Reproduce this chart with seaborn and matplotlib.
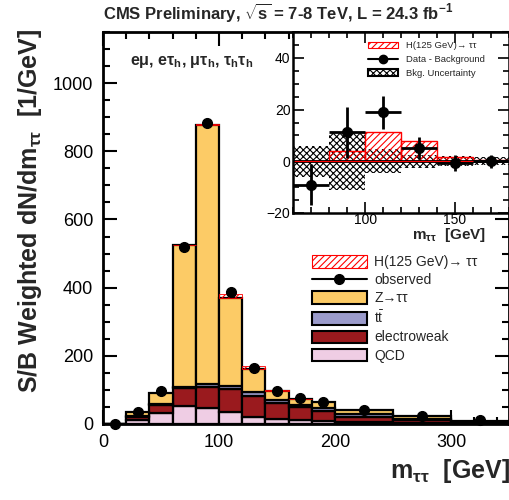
import numpy as np
import pandas as pd
import matplotlib
matplotlib.use("Agg")
import matplotlib.pyplot as plt
import seaborn as sns
from matplotlib.patches import Patch
from matplotlib.lines import Line2D
from matplotlib.ticker import MultipleLocator

# bin edges of the m_tautau distribution (GeV)
mass_edges = [0, 20, 40, 60, 80, 100, 120, 140, 160, 180, 200, 250, 300, 350]

# stacked backgrounds (S/B weighted events / GeV)
qcd = [0, 12, 31, 54, 46, 34, 22, 15, 12, 8, 7, 3, 1]
ewk = [0, 10, 26, 52, 64, 69, 61, 46, 37, 31, 15, 9, 4]
ttbar = [0, 1, 3, 2, 8, 8, 10, 9, 8, 7, 7, 3, 1]
ztt = [0, 13, 32, 417, 758, 259, 69, 28, 15, 18, 12, 9, 2]
higgs = [0, 0, 0, 0.5, 4, 11, 8, 2, 0.5, 0, 0, 0, 0]
observed = [0, 36, 98, 518, 884, 387, 165, 98, 76, 64, 42, 24, 12]

# inset: data minus background
inset_edges = [60, 80, 100, 120, 140, 160, 180]
inset_signal = [0.3, 3.8, 11.2, 7.7, 1.7, 0.5]
inset_data = [-9.0, 11.2, 18.9, 5.1, -0.6, 0.0]
inset_err = [8.0, 9.8, 6.4, 4.2, 3.0, 2.5]
inset_unc = [6.0, 11.2, 4.6, 2.6, 1.9, 1.6]

colors = {
    "Z": "#FCCB66",
    "tt": "#9B9BCB",
    "ewk": "#9A1A1E",
    "qcd": "#EFCDE4",
}

sns.set_theme(style="ticks")
plt.rcParams["font.family"] = ["Liberation Sans", "DejaVu Sans"]
plt.rcParams["mathtext.fontset"] = "custom"
plt.rcParams["mathtext.rm"] = "Liberation Sans"
plt.rcParams["mathtext.it"] = "Liberation Sans:italic"
plt.rcParams["mathtext.bf"] = "Liberation Sans:bold"
plt.rcParams["hatch.linewidth"] = 0.8

edges = np.array(mass_edges, dtype=float)
centers = 0.5 * (edges[:-1] + edges[1:])
widths = np.diff(edges)

rows = []
for proc, vals in [("Z", ztt), ("tt", ttbar), ("ewk", ewk), ("qcd", qcd)]:
    for c, v in zip(centers, vals):
        rows.append({"mass": c, "weight": v, "process": proc})
df = pd.DataFrame(rows)

fig = plt.figure(figsize=(5.1, 5.0), dpi=100)
ax = fig.add_axes([0.202, 0.152, 0.796, 0.784])

sns.histplot(data=df, x="mass", weights="weight", hue="process",
             hue_order=["Z", "tt", "ewk", "qcd"], palette=colors,
             bins=mass_edges, multiple="stack", element="bars",
             alpha=1, edgecolor="black", linewidth=1.6, legend=False, ax=ax)

total = np.array(qcd) + np.array(ewk) + np.array(ttbar) + np.array(ztt)
hig = np.array(higgs)
sel = hig > 0
ax.bar(centers[sel], hig[sel], width=widths[sel], bottom=total[sel],
       facecolor="none", edgecolor="red", hatch="/////", linewidth=0.6)
ax.plot(centers, observed, "o", color="black", ms=7, zorder=5, clip_on=False)

ax.set_xlim(0, 350)
ax.set_ylim(0, 1150)
ax.xaxis.set_major_locator(MultipleLocator(100))
ax.xaxis.set_minor_locator(MultipleLocator(20))
ax.yaxis.set_major_locator(MultipleLocator(200))
ax.yaxis.set_minor_locator(MultipleLocator(50))
ax.tick_params(which="both", direction="in", top=True, right=True,
               width=1.5, labelsize=13, colors="black")
ax.tick_params(which="major", length=10, pad=7)
ax.tick_params(which="minor", length=5)
for s in ax.spines.values():
    s.set_linewidth(2)
    s.set_color("black")

ax.set_xlabel(r"m$_{\mathbf{ττ}}$  [GeV]", fontsize=18, fontweight="bold")
ax.xaxis.set_label_coords(0.855, -0.085)
ax.set_ylabel(r"S/B Weighted dN/dm$_{\mathbf{ττ}}$  [1/GeV]", fontsize=18,
              fontweight="bold")
ax.yaxis.set_label_coords(-0.145, 0.545)

ax.text(0.066, 0.923, r"eμ, eτ$_\mathbf{h}$, μτ$_\mathbf{h}$, τ$_\mathbf{h}$τ$_\mathbf{h}$",
        transform=ax.transAxes, fontsize=11.5, fontweight="bold", va="center")
fig.text(0.545, 0.975, r"CMS Preliminary, $\sqrt{\mathbf{s}}$ = 7-8 TeV, L = 24.3 fb$^{\mathbf{-1}}$",
         ha="center", va="center", fontsize=12, fontweight="bold")

handles = [
    Patch(facecolor="white", edgecolor="red", hatch="/////", lw=0.8,
          label="H(125 GeV)→ ττ"),
    Line2D([], [], color="black", marker="o", ms=7, lw=1.5, label="observed"),
    Patch(facecolor=colors["Z"], edgecolor="black", lw=1.5, label="Z→ττ"),
    Patch(facecolor=colors["tt"], edgecolor="black", lw=1.5,
          label=r"t$\bar{\mathrm{t}}$"),
    Patch(facecolor=colors["ewk"], edgecolor="black", lw=1.5, label="electroweak"),
    Patch(facecolor=colors["qcd"], edgecolor="black", lw=1.5, label="QCD"),
]
ax.legend(handles=handles, loc="upper left", bbox_to_anchor=(0.5, 0.445),
          frameon=False, fontsize=10, handlelength=4.0, handleheight=1.0,
          handletextpad=0.5, labelspacing=0.3, borderaxespad=0)

# inset
axi = fig.add_axes([0.575, 0.574, 0.423, 0.362])
iedges = np.array(inset_edges, dtype=float)
icent = 0.5 * (iedges[:-1] + iedges[1:])
iw = np.diff(iedges)
unc = np.array(inset_unc)
axi.bar(icent, 2 * unc, width=iw, bottom=-unc, facecolor="white",
        edgecolor="black", hatch="xxxxx", linewidth=0)
axi.bar(icent, inset_signal, width=iw, facecolor="none", edgecolor="red",
        hatch="/////", linewidth=1.0)
axi.axhline(0, color="black", lw=2)
axi.axhline(0, color="red", lw=0.8)
axi.errorbar(icent, inset_data, xerr=iw / 2, yerr=inset_err, fmt="o",
             color="black", ms=7, lw=2, capsize=0, zorder=5)
axi.set_xlim(60, 180)
axi.set_ylim(-20, 50)
axi.xaxis.set_major_locator(MultipleLocator(50))
axi.xaxis.set_minor_locator(MultipleLocator(10))
axi.yaxis.set_major_locator(MultipleLocator(20))
axi.yaxis.set_minor_locator(MultipleLocator(5))
axi.tick_params(which="both", direction="in", top=True, right=True,
                width=1.2, labelsize=10, colors="black", pad=2)
axi.tick_params(axis="x", pad=0)
axi.tick_params(which="major", length=8)
axi.tick_params(which="minor", length=4)
for s in axi.spines.values():
    s.set_linewidth(1.8)
    s.set_color("black")
axi.set_xlabel(r"m$_{\mathbf{ττ}}$  [GeV]", fontsize=11, fontweight="bold")
axi.xaxis.set_label_coords(0.72, -0.07)

ihandles = [
    Patch(facecolor="white", edgecolor="red", hatch="/////", lw=0.8,
          label="H(125 GeV)→ ττ"),
    Line2D([], [], color="black", marker="o", ms=6, lw=1.5,
           label="Data - Background"),
    Patch(facecolor="white", edgecolor="black", hatch="xxxxx", lw=1.5,
          label="Bkg. Uncertainty"),
]
axi.legend(handles=ihandles, loc="upper left", bbox_to_anchor=(0.33, 0.97),
           frameon=False, fontsize=6.8, handlelength=3.2, labelspacing=0.5,
           borderaxespad=0)

fig.savefig("out.png", dpi=100)
